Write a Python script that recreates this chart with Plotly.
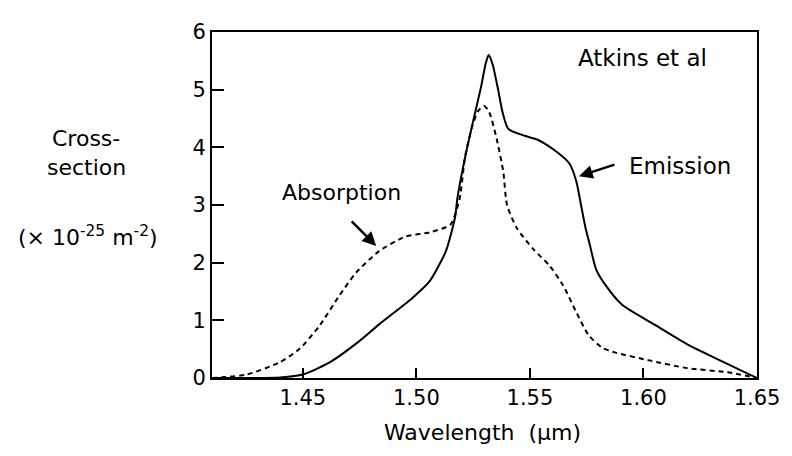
import plotly.graph_objects as go

# Emission cross-section (solid)
emission_wl = [1.410, 1.425, 1.440, 1.450, 1.4618, 1.4736, 1.4836, 1.498, 1.5057, 1.513,
               1.5171, 1.518, 1.521, 1.5248, 1.5285, 1.5305, 1.5318, 1.5335, 1.536, 1.538,
               1.5405, 1.5477, 1.5529, 1.5601, 1.5674, 1.5705, 1.5725, 1.5745, 1.5762,
               1.5791, 1.5833, 1.5906, 1.6051, 1.6195, 1.633, 1.650]
emission_cs = [0.0, 0.0, 0.01, 0.06, 0.27, 0.6, 0.93, 1.38, 1.67, 2.2,
               2.8, 3.1, 3.74, 4.42, 5.05, 5.45, 5.6, 5.45, 5.0, 4.6,
               4.32, 4.2, 4.14, 3.97, 3.72, 3.4, 3.0, 2.6, 2.34,
               1.89, 1.61, 1.27, 0.92, 0.58, 0.32, 0.0]

# Absorption cross-section (dashed)
absorption_wl = [1.410, 1.4253, 1.4397, 1.4487, 1.4574, 1.4661, 1.4735, 1.4836, 1.495, 1.5063,
                 1.515, 1.519, 1.5215, 1.5245, 1.527, 1.5297, 1.532, 1.5354, 1.5383, 1.5399,
                 1.5442, 1.5516, 1.5586, 1.5647, 1.5703, 1.5759, 1.582, 1.5877, 1.602,
                 1.6194, 1.6368, 1.650]
absorption_cs = [0.0, 0.06, 0.27, 0.51, 0.91, 1.43, 1.83, 2.2, 2.45, 2.53,
                 2.66, 3.1, 3.85, 4.35, 4.62, 4.72, 4.62, 4.14, 3.57, 3.0,
                 2.6, 2.23, 1.95, 1.6, 1.15, 0.74, 0.52, 0.44, 0.31,
                 0.17, 0.1, 0.0]

x_ticks = [1.45, 1.50, 1.55, 1.60, 1.65]
x_ticktext = ["1.45", "1.50", "1.55", "1.60", "1.65"]
y_ticks = [0, 1, 2, 3, 4, 5, 6]

FONT = "DejaVu Sans, Liberation Sans, Arial, sans-serif"

fig = go.Figure()
fig.add_trace(go.Scatter(x=absorption_wl, y=absorption_cs, mode="lines",
                         line=dict(color="black", width=2, dash="5px,4px",
                                   shape="spline", smoothing=0.6),
                         name="Absorption", showlegend=False))
fig.add_trace(go.Scatter(x=emission_wl, y=emission_cs, mode="lines",
                         line=dict(color="black", width=2,
                                   shape="spline", smoothing=0.6),
                         name="Emission", showlegend=False))

# the page body has an 8px margin: size the figure so it fits the 792x456 window
fig.update_layout(
    width=784, height=440,
    margin=dict(l=204, r=29, t=19, b=70),
    paper_bgcolor="white", plot_bgcolor="white",
    font=dict(family=FONT, size=21, color="black"),
    xaxis=dict(range=[1.41, 1.65], tickvals=x_ticks, ticktext=x_ticktext,
               showline=True, linecolor="black", linewidth=2, mirror=True,
               ticks="inside", ticklen=10, tickwidth=2, tickcolor="black",
               showgrid=False, zeroline=False,
               tickfont=dict(family=FONT, size=21, color="black")),
    yaxis=dict(range=[0, 6], tickvals=y_ticks,
               showline=True, linecolor="black", linewidth=2, mirror=True,
               ticks="inside", ticklen=12, tickwidth=2, tickcolor="black",
               showgrid=False, zeroline=False,
               tickfont=dict(family=FONT, size=21, color="black")),
)

texts = [
    ("Cross-", -0.2305, 0.692, 22),
    ("section", -0.2305, 0.607, 22),
    ("(× 10<sup>-25</sup> m<sup>-2</sup>)", -0.228, 0.41, 22),
    ("Atkins et al", 0.789, 0.926, 23),
    ("Emission", 0.858, 0.6125, 23),
    ("Absorption", 0.238, 0.5356, 22),
    ("Wavelength  (μm)", 0.4955, -0.157, 22),
]
for t, x, y, s in texts:
    fig.add_annotation(text=t, x=x, y=y, xref="paper", yref="paper",
                       showarrow=False, xanchor="center", yanchor="middle",
                       font=dict(family=FONT, size=s, color="black"))

# arrows
fig.add_annotation(x=1.5716, y=3.5, xref="x", yref="y", text="", showarrow=True,
                   ax=37, ay=-12, arrowhead=2, arrowsize=1.1, arrowwidth=2.5,
                   arrowcolor="black")
fig.add_annotation(x=1.4823, y=2.29, xref="x", yref="y", text="", showarrow=True,
                   ax=-26, ay=-26, arrowhead=2, arrowsize=1.1, arrowwidth=2.5,
                   arrowcolor="black")

fig.write_html("out.html")
